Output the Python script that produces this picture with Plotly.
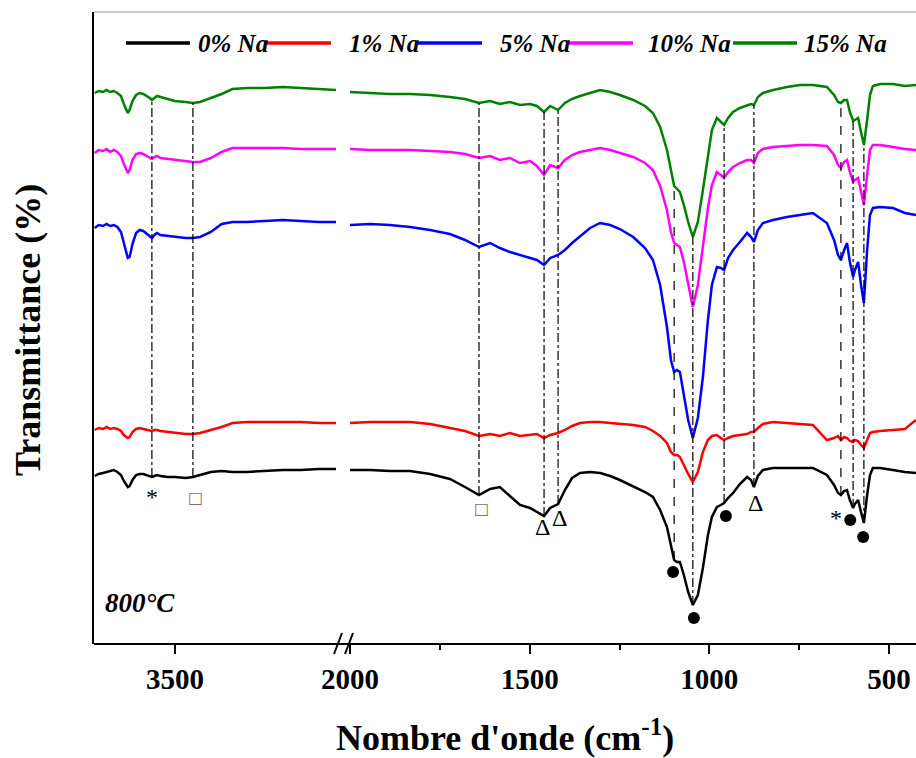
import numpy as np
import plotly.graph_objects as go

# ---------------- data ----------------
SERIES = ["0% Na", "1% Na", "5% Na", "10% Na", "15% Na"]
COLORS = ["#000000", "#ff0000", "#0000ff", "#ff00ff", "#008000"]

# wavenumbers (cm-1), left segment of the broken axis
NU_LEFT = [3723, 3712, 3700, 3690, 3680, 3670, 3660, 3650, 3642, 3636, 3631, 3626,
           3618, 3608, 3598, 3588, 3578, 3570, 3564, 3557, 3550, 3540, 3520, 3500,
           3470, 3450, 3430, 3400, 3370, 3340, 3300, 3250, 3200, 3150, 3100, 3052]

# wavenumbers (cm-1), right segment
NU_RIGHT = [2000, 1944, 1889, 1833, 1777, 1722, 1680, 1641, 1610, 1583, 1555, 1527,
            1499, 1480, 1460, 1443, 1421, 1402, 1382, 1360, 1332, 1304, 1276, 1249,
            1212, 1179, 1157, 1137, 1118, 1107, 1098, 1090, 1082, 1071, 1059, 1046,
            1032, 1018, 1004, 993, 979, 968, 959, 948, 934, 915, 895, 884, 876, 865,
            851, 823, 784, 748, 712, 673, 653, 642, 634, 625, 617, 609, 600, 595,
            586, 578, 570, 561, 553, 545, 525, 489, 456, 425]

# transmittance (arbitrary units, curves offset as in the figure)
T0_LEFT = [16.8, 17.0, 17.1, 17.2, 17.3, 17.4, 17.2, 16.9, 16.3, 15.9, 15.7, 15.8,
           16.4, 16.9, 17.0, 17.0, 16.9, 16.8, 16.7, 16.8, 16.9, 16.8, 16.7, 16.7,
           16.6, 16.7, 16.9, 17.2, 17.3, 17.2, 17.2, 17.3, 17.4, 17.4, 17.5, 17.5]
T1_LEFT = [21.4, 21.6, 21.5, 21.7, 21.5, 21.6, 21.5, 21.3, 20.9, 20.7, 20.6, 20.7,
           21.2, 21.5, 21.6, 21.5, 21.4, 21.3, 21.3, 21.4, 21.4, 21.3, 21.2, 21.1,
           21.0, 21.0, 21.1, 21.4, 21.7, 22.1, 22.2, 22.2, 22.2, 22.2, 22.1, 22.1]
T5_LEFT = [41.6, 41.9, 41.8, 42.0, 41.8, 41.9, 41.7, 41.2, 40.1, 39.2, 38.6, 38.7,
           40.0, 41.1, 41.4, 41.3, 41.0, 40.7, 40.6, 40.9, 41.1, 40.9, 40.8, 40.7,
           40.6, 40.6, 40.7, 41.2, 42.0, 42.2, 42.2, 42.3, 42.4, 42.3, 42.2, 42.2]
T10_LEFT = [49.1, 49.4, 49.3, 49.5, 49.2, 49.4, 49.2, 48.8, 48.0, 47.4, 47.1, 47.4,
            48.4, 49.0, 49.1, 49.0, 48.8, 48.6, 48.5, 48.7, 48.8, 48.6, 48.5, 48.4,
            48.3, 48.2, 48.2, 48.6, 49.2, 49.6, 49.6, 49.6, 49.6, 49.5, 49.5, 49.5]
T15_LEFT = [55.1, 55.3, 55.2, 55.4, 55.2, 55.3, 55.1, 54.8, 54.0, 53.4, 53.1, 53.4,
            54.3, 54.9, 55.1, 55.0, 54.8, 54.6, 54.4, 54.6, 54.8, 54.7, 54.5, 54.3,
            54.2, 54.1, 54.2, 54.6, 55.0, 55.5, 55.6, 55.6, 55.7, 55.6, 55.5, 55.4]

T0_RIGHT = [17.4, 17.4, 17.3, 17.3, 17.0, 16.5, 15.7, 14.9, 15.5, 15.7, 14.8, 13.9,
            13.6, 13.2, 12.8, 13.6, 14.0, 15.4, 16.6, 17.1, 17.2, 17.1, 16.8, 16.4,
            15.8, 15.2, 14.7, 13.4, 11.7, 9.9, 8.4, 8.2, 8.2, 6.9, 5.2, 3.9,
            4.9, 7.6, 10.9, 12.7, 13.7, 13.9, 14.1, 14.6, 15.1, 16.0, 16.7, 16.4, 15.7, 16.8,
            17.4, 17.6, 17.6, 17.6, 17.6, 16.9, 15.9, 15.1, 14.9, 15.3, 15.4, 14.4, 13.6, 14.0,
            14.4, 13.2, 12.1, 14.9, 16.9, 17.6, 17.6, 17.4, 17.2, 17.1]
T1_RIGHT = [22.1, 22.2, 22.2, 22.2, 22.0, 21.6, 21.3, 20.8, 21.0, 20.8, 21.1, 20.8,
            20.9, 21.0, 20.6, 20.9, 21.1, 21.4, 21.8, 22.1, 22.2, 22.2, 22.1, 22.0,
            21.9, 21.7, 21.3, 20.8, 20.1, 19.2, 18.9, 18.9, 18.7, 17.9, 17.0, 16.2,
            17.2, 19.2, 20.4, 20.8, 20.9, 20.6, 20.4, 20.6, 20.8, 20.9, 21.0, 21.2, 21.2, 21.6,
            22.0, 22.2, 22.1, 22.0, 21.9, 20.4, 20.6, 20.8, 20.4, 20.7, 20.6, 20.3, 20.2, 20.4,
            20.3, 19.9, 19.6, 20.4, 21.1, 21.2, 21.3, 21.4, 21.5, 22.4]
T5_RIGHT = [41.9, 42.0, 41.9, 41.7, 41.4, 41.0, 40.4, 39.7, 40.1, 39.6, 39.2, 38.9,
            38.6, 38.4, 37.9, 38.6, 38.9, 39.4, 40.1, 40.8, 41.6, 42.1, 41.9, 41.5,
            40.7, 39.6, 38.4, 35.9, 31.7, 28.4, 27.2, 27.4, 27.2, 24.9, 22.4, 20.6,
            22.6, 26.7, 32.4, 35.9, 37.7, 37.6, 37.4, 38.6, 39.4, 40.2, 41.1, 40.7, 40.2, 41.4,
            42.1, 42.4, 42.7, 42.9, 43.1, 42.1, 40.4, 38.9, 38.4, 39.4, 40.1, 38.2, 36.7, 37.4,
            38.2, 35.9, 34.1, 39.4, 42.9, 43.6, 43.7, 43.6, 43.1, 42.9]
T10_RIGHT = [49.5, 49.4, 49.4, 49.4, 49.3, 49.2, 49.0, 48.6, 48.8, 48.4, 48.6, 48.1,
             48.3, 47.8, 46.9, 47.9, 47.6, 48.4, 48.9, 49.2, 49.4, 49.6, 49.4, 49.1,
             48.7, 48.1, 47.4, 45.8, 43.4, 41.2, 40.1, 39.9, 39.7, 38.2, 35.9, 33.7,
             35.9, 39.7, 43.6, 45.9, 47.2, 46.9, 46.6, 47.2, 47.7, 48.1, 48.4, 48.4, 48.1, 49.1,
             49.5, 49.7, 49.8, 49.9, 49.9, 49.8, 48.9, 47.9, 47.6, 48.2, 48.4, 47.2, 46.2, 46.4,
             46.6, 45.2, 43.9, 46.9, 49.4, 49.9, 49.9, 49.7, 49.5, 49.4]
T15_RIGHT = [55.2, 55.1, 55.0, 55.0, 54.9, 54.7, 54.5, 54.1, 54.3, 54.0, 54.2, 53.9,
             54.0, 53.8, 53.2, 53.8, 53.4, 54.1, 54.5, 54.8, 55.1, 55.4, 55.2, 54.9,
             54.4, 53.8, 53.1, 51.7, 49.4, 47.2, 45.8, 45.5, 45.2, 43.9, 42.2, 40.7,
             42.2, 45.4, 48.9, 51.4, 52.6, 52.2, 51.9, 52.6, 53.2, 53.6, 53.9, 54.0, 53.9, 54.7,
             55.1, 55.4, 55.7, 55.9, 55.9, 55.7, 54.9, 54.2, 54.1, 54.4, 54.4, 53.2, 52.3, 52.4,
             52.6, 51.2, 49.9, 52.4, 54.9, 55.8, 56.0, 56.0, 55.8, 55.9]

LEFT_T = [T0_LEFT, T1_LEFT, T5_LEFT, T10_LEFT, T15_LEFT]
RIGHT_T = [T0_RIGHT, T1_RIGHT, T5_RIGHT, T10_RIGHT, T15_RIGHT]

# band positions marked with vertical guide lines (cm-1)
PEAKS_LEFT = [3564, 3450]
PEAKS_RIGHT = [1641, 1460, 1421, 1098, 1046, 959, 876, 634, 600, 570]
PEAK_DASH_RIGHT = ["dashdot", "dashdot", "dashdot", "dash", "dashdot", "dashdot",
                   "dashdot", "dash", "dashdot", "dashdot"]

# band symbols under the 0% Na curve
SYM_LEFT_TEXT = ["*", "□"]
SYM_LEFT_NU = [3564, 3444]
SYM_LEFT_T = [14.7, 14.7]
SYM_RIGHT_TEXT = ["□", "Δ", "Δ", "Δ", "*"]
SYM_RIGHT_NU = [1633, 1463, 1416, 873, 647]
SYM_RIGHT_T = [13.6, 11.7, 12.6, 14.1, 12.6]
DOT_NU = [1101, 1043, 954, 608, 572]
DOT_T = [7.2, 2.6, 12.8, 12.4, 10.7]

X_TICKS_LEFT = [3500]
X_TICKS_RIGHT = [2000, 1500, 1000, 500]
TEMPERATURE = "800°C"

# ---------------- layout helpers ----------------
W, H = 916, 758
ML, MR, MT, MB = 94, 0, 12, 114
PW = W - ML - MR
PH = H - MT - MB
FONT = "Liberation Serif, Times New Roman, serif"


def px(x):
    return (x - ML) / PW


def pyy(y):
    return (H - MB - y) / PH


fig = go.Figure()

for name, col, tl, tr in zip(SERIES, COLORS, LEFT_T, RIGHT_T):
    fig.add_trace(go.Scatter(x=NU_LEFT, y=tl, mode="lines", name=name,
                             line=dict(color=col, width=2.5), xaxis="x", yaxis="y",
                             showlegend=False))
    fig.add_trace(go.Scatter(x=NU_RIGHT, y=tr, mode="lines", name=name,
                             line=dict(color=col, width=2.5), xaxis="x2", yaxis="y",
                             showlegend=False))

# band dots
fig.add_trace(go.Scatter(x=DOT_NU, y=DOT_T, mode="markers", xaxis="x2", yaxis="y",
                         marker=dict(symbol="circle", size=12, color="black"),
                         showlegend=False, hoverinfo="skip"))

shapes = []


def guide(nu, nus, top, bottom, xref, dash):
    nr = np.array(nus[::-1], dtype=float)
    y0 = float(np.interp(nu, nr, np.array(bottom[::-1], dtype=float)))
    y1 = float(np.interp(nu, nr, np.array(top[::-1], dtype=float)))
    return dict(type="line", xref=xref, yref="y", x0=nu, x1=nu, y0=y0, y1=y1,
                line=dict(color="black", width=1.2, dash=dash), layer="above")


for nu in PEAKS_LEFT:
    shapes.append(guide(nu, NU_LEFT, T15_LEFT, T0_LEFT, "x", "dashdot"))
for nu, d in zip(PEAKS_RIGHT, PEAK_DASH_RIGHT):
    shapes.append(guide(nu, NU_RIGHT, T15_RIGHT, T0_RIGHT, "x2", d))

# frame: bottom axis line (continuous), top thin border
shapes.append(dict(type="line", xref="paper", yref="paper", x0=0, x1=1, y0=0, y1=0,
                   line=dict(color="black", width=2)))
shapes.append(dict(type="line", xref="paper", yref="paper", x0=0, x1=1, y0=1, y1=1,
                   line=dict(color="#9a9a9a", width=1)))
# axis break marks
for xa, xb in [(334, 342), (345, 353)]:
    shapes.append(dict(type="line", xref="paper", yref="paper",
                       x0=px(xa), x1=px(xb), y0=pyy(654), y1=pyy(633),
                       line=dict(color="black", width=2)))

# manual legend
LEG_LINE_X = [126, 267, 418, 569, 733]
LEG_TEXT_X = [196, 347, 498, 646, 802]
LEG_Y = 43
annotations = []
for name, col, lx, tx in zip(SERIES, COLORS, LEG_LINE_X, LEG_TEXT_X):
    shapes.append(dict(type="line", xref="paper", yref="paper",
                       x0=px(lx), x1=px(lx + 64), y0=pyy(LEG_Y), y1=pyy(LEG_Y),
                       line=dict(color=col, width=3.5)))
    annotations.append(dict(xref="paper", yref="paper", x=px(tx), y=pyy(LEG_Y),
                            xanchor="left", yanchor="middle", showarrow=False,
                            text=f"<b><i>{name}</i></b>",
                            font=dict(family=FONT, size=25, color="black")))

# band symbols
for t, nu, tv in zip(SYM_LEFT_TEXT, SYM_LEFT_NU, SYM_LEFT_T):
    box = t == "□"
    annotations.append(dict(xref="x", yref="y", x=nu, y=tv, showarrow=False, text=t,
                            font=dict(family="DejaVu Sans" if box else FONT,
                                      size=16 if box else 24,
                                      color="#8c6e6e" if box else "black")))
for t, nu, tv in zip(SYM_RIGHT_TEXT, SYM_RIGHT_NU, SYM_RIGHT_T):
    box = t == "□"
    annotations.append(dict(xref="x2", yref="y", x=nu, y=tv, showarrow=False, text=t,
                            font=dict(family="DejaVu Sans" if box else FONT,
                                      size=16 if box else 24,
                                      color="#8c6e6e" if box else "black")))

annotations.append(dict(xref="paper", yref="paper", x=px(103), y=pyy(603),
                        xanchor="left", yanchor="middle", showarrow=False,
                        text=f"<b><i>{TEMPERATURE}</i></b>",
                        font=dict(family=FONT, size=27, color="black")))
annotations.append(dict(xref="paper", yref="paper", x=0.5, y=pyy(736),
                        xanchor="center", yanchor="middle", showarrow=False,
                        text="<b>Nombre d'onde (cm<sup>-1</sup>)</b>",
                        font=dict(family=FONT, size=36, color="black")))
annotations.append(dict(xref="paper", yref="paper", x=px(28), y=pyy(330),
                        xanchor="center", yanchor="middle", showarrow=False,
                        textangle=-90, text="<b>Transmittance (%)</b>",
                        font=dict(family=FONT, size=36, color="black")))

tickfont = dict(family=FONT, size=29, color="black")
fig.update_layout(
    width=W, height=H,
    margin=dict(l=ML, r=MR, t=MT, b=MB),
    paper_bgcolor="white", plot_bgcolor="white",
    xaxis=dict(domain=[0, px(336)], range=[3725, 3052], tickmode="array",
               tickvals=X_TICKS_LEFT, ticktext=[f"<b>{v}</b>" for v in X_TICKS_LEFT],
               ticks="outside", ticklen=9, tickwidth=2, tickcolor="black",
               showline=False, showgrid=False, zeroline=False, tickfont=tickfont,
               anchor="y"),
    xaxis2=dict(domain=[px(350), 1], range=[2000, 425], tickmode="array",
                tickvals=X_TICKS_RIGHT, ticktext=[f"<b>{v}</b>" for v in X_TICKS_RIGHT],
                ticks="outside", ticklen=9, tickwidth=2, tickcolor="black",
                minor=dict(tickvals=[1750, 1250, 750], ticks="outside", ticklen=5,
                           tickwidth=2, tickcolor="black", showgrid=False),
                showline=False, showgrid=False, zeroline=False, tickfont=tickfont,
                anchor="y"),
    yaxis=dict(range=[0, 63.2], showticklabels=False, ticks="", showgrid=False,
               zeroline=False, showline=True, linewidth=2, linecolor="black",
               anchor="x"),
    shapes=shapes,
    annotations=annotations,
    showlegend=False,
)

fig.write_html(
    "out.html",
    config={"displayModeBar": False},
    post_script="document.body.style.margin='0';document.body.style.padding='0';"
                "document.body.style.overflow='hidden';",
)
